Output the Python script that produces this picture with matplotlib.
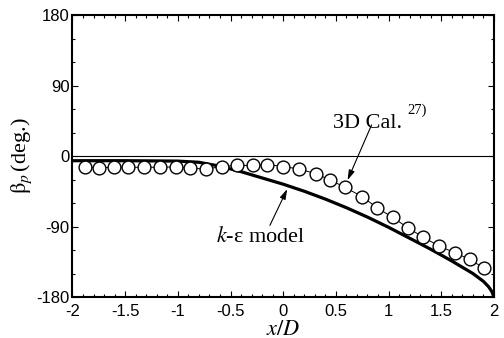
import matplotlib
matplotlib.use("Agg")
import matplotlib.pyplot as plt
from matplotlib.ticker import MultipleLocator

# 3D calculation (circles)
cal_x = [-1.88, -1.75, -1.61, -1.47, -1.32, -1.17, -1.02, -0.88, -0.73, -0.58,
         -0.44, -0.29, -0.15, 0.00, 0.15, 0.31, 0.44, 0.59, 0.75, 0.89,
         1.04, 1.18, 1.33, 1.48, 1.63, 1.77, 1.91]
cal_y = [-13.7, -15.3, -14.0, -14.4, -14.4, -14.4, -13.8, -15.7, -16.6, -13.4,
         -11.9, -12.1, -10.9, -13.4, -16.6, -22.6, -30.3, -40.2, -52.0, -66.0,
         -78.5, -91.3, -103.8, -115.0, -123.5, -132.0, -143.4]

# k-epsilon model (thick line)
ke_x = [-2.0, -1.5, -1.0, -0.8, -0.6, -0.4, -0.2, 0.0, 0.2, 0.4, 0.6, 0.8,
        1.0, 1.2, 1.4, 1.6, 1.8, 1.9, 1.95, 1.98, 2.0]
ke_y = [-6, -6, -6.5, -8, -13, -20, -28, -36, -45, -55, -66, -78,
        -91, -105, -119, -134, -150, -160, -167, -173, -180]

xticks = [-2, -1.5, -1, -0.5, 0, 0.5, 1, 1.5, 2]
xticklabels = ["-2", "-1.5", "-1", "-0.5", "0", "0.5", "1", "1.5", "2"]
yticks = [-180, -90, 0, 90, 180]
yticklabels = ["-180", "-90", "0", "90", "180"]

plt.rcParams['mathtext.fontset'] = 'stix'

fig = plt.figure(figsize=(5.04, 3.38), dpi=100)
ax = fig.add_axes([0.1438, 0.1213, 0.8362, 0.8343])

ax.axhline(0, color='black', lw=0.8, zorder=1)
ax.plot(ke_x, ke_y, color='black', lw=2.3, solid_capstyle='butt',
        solid_joinstyle='round', zorder=2)
ax.plot(cal_x, cal_y, color='black', lw=0.7, marker='o', markersize=9.2,
        markerfacecolor='white', markeredgecolor='black', markeredgewidth=1.0,
        zorder=3)

ax.set_xlim(-2, 2)
ax.set_ylim(-180, 180)
ax.set_xticks(xticks)
ax.set_xticklabels(xticklabels)
ax.set_yticks(yticks)
ax.set_yticklabels(yticklabels)
ax.xaxis.set_minor_locator(MultipleLocator(0.1))
ax.yaxis.set_minor_locator(MultipleLocator(30))

for s in ax.spines.values():
    s.set_linewidth(1.5)

ax.tick_params(which='both', direction='in', top=True, right=True, width=0.8)
ax.tick_params(which='major', length=4)
ax.tick_params(which='minor', length=2.5)
ax.tick_params(axis='x', which='major', pad=5)
ax.tick_params(axis='y', which='major', pad=2)
for lab in ax.get_xticklabels() + ax.get_yticklabels():
    lab.set_fontfamily('Liberation Sans')
    lab.set_fontsize(12)

ax.set_xlabel(r"$x/D$", fontsize=16, labelpad=0)
ax.set_ylabel(r"$\mathrm{\beta}_p\,$(deg.)", fontsize=16,
              fontfamily='Liberation Serif', labelpad=2)

# annotations
ax.annotate("", xy=(0.611, -30.8), xytext=(0.839, 39.7),
            arrowprops=dict(arrowstyle='-|>,head_length=0.6,head_width=0.18',
                            color='black', lw=0.8, shrinkA=0, shrinkB=0))
ax.text(0.80, 36, "3D Cal.", fontsize=16, fontfamily='Liberation Serif',
        ha='center', va='baseline')
ax.text(1.27, 54, "27)", fontsize=10.5, fontfamily='Liberation Serif',
        ha='center', va='baseline')

ax.annotate("", xy=(0.038, -42.3), xytext=(-0.126, -88.5),
            arrowprops=dict(arrowstyle='-|>,head_length=0.6,head_width=0.18',
                            color='black', lw=0.8, shrinkA=0, shrinkB=0))
ax.text(-0.216, -110, r"$k$-ε model", fontsize=16, fontfamily='Liberation Serif',
        ha='center', va='baseline')

fig.savefig("out.png", dpi=100)
